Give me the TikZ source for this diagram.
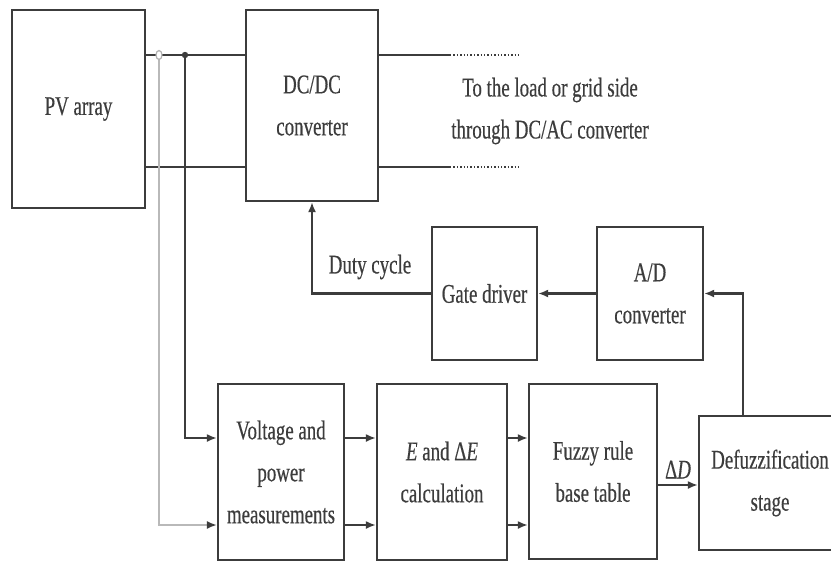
\documentclass[tikz,border=0pt]{standalone}
\usepackage{fontspec}
\setmainfont[FakeStretch=0.7, FakeBold=0.4]{Liberation Serif}
\usepackage{tikz}
\usetikzlibrary{arrows.meta}
\definecolor{inkgray}{RGB}{60, 60, 60}

\tikzset{
  blk/.style={draw=inkgray, line width=2.2pt, text=inkgray, align=center,
    font=\fontsize{27}{42}\selectfont},
  wire/.style={draw=inkgray, line width=2.2pt},
  conn/.style={wire, -{Latex[length=10pt,width=8pt]}},
  lbl/.style={text=inkgray, align=center, font=\fontsize{27}{42}\selectfont}
}

\begin{document}
\begin{tikzpicture}[x=1pt, y=-1pt]
\clip (0,0) rectangle (831,563);
\fill[white] (0,0) rectangle (831,563);
% blocks
\node[blk, minimum width=133pt, minimum height=198pt] (pv) at (78.5,109) {PV array};
\node[blk, minimum width=132pt, minimum height=191pt] (dcdc) at (312,105.5) {DC/DC\\converter};
\node[blk, minimum width=105pt, minimum height=133pt] (gate) at (484.5,293.5) {Gate driver};
\node[blk, minimum width=106pt, minimum height=133pt] (ad) at (650,293.5) {A/D\\converter};
\node[blk, minimum width=126pt, minimum height=176pt] (volt) at (281,472) {Voltage and\\power\\measurements};
\node[blk, minimum width=130pt, minimum height=176pt] (ecalc) at (442,472) {\textit{E} and Δ\textit{E}\\calculation};
\node[blk, minimum width=128pt, minimum height=175pt] (fuzzy) at (593,471.5) {Fuzzy rule\\base table};
\node[blk, minimum width=142pt, minimum height=134pt] (defuzz) at (770,483) {Defuzzification\\stage};
\node[lbl] (load) at (550,111) {To the load or grid side\\through DC/AC converter};
\node[lbl] (duty) at (370,267) {Duty cycle};
% junctions and levels
\coordinate (j1) at (159,55);
\coordinate (j2) at (185,55);
\coordinate (neg) at (0,167);
\coordinate (rowa) at (0,438);
\coordinate (rowb) at (0,525);
\coordinate (rowd) at (0,485);
\coordinate (tap) at (743,0);
\coordinate (out) at (450,0);
\coordinate (outend) at (520,0);
% power lines
\draw[wire] (pv.east |- j1) -- (dcdc.west |- j1);
\draw[wire] (pv.east |- neg) -- (dcdc.west |- neg);
\draw[wire] (dcdc.east |- j1) -- (out |- j1);
\draw[wire] (dcdc.east |- neg) -- (out |- neg);
\draw[wire, line width=1.4pt, dotted] (out |- j1) -- (outend |- j1);
\draw[wire, line width=1.4pt, dotted] (out |- neg) -- (outend |- neg);
% sensing
\draw[gray!55, line width=1.8pt, -{Latex[length=10pt,width=8pt,color=inkgray]}] (j1) |- (volt.west |- rowb);
\draw[conn] (j2) |- (volt.west |- rowa);
\draw[gray!60, line width=1.2pt, fill=white] (j1) ellipse (3pt and 4.5pt);
\fill[inkgray] (j2) circle (3.2pt);
% control chain
\draw[conn] (volt.east |- rowa) -- (ecalc.west |- rowa);
\draw[conn] (volt.east |- rowb) -- (ecalc.west |- rowb);
\draw[conn] (ecalc.east |- rowa) -- (fuzzy.west |- rowa);
\draw[conn] (ecalc.east |- rowb) -- (fuzzy.west |- rowb);
\draw[conn] (fuzzy.east |- rowd) -- node[lbl, above=2pt] {Δ\textit{D}} (defuzz.west |- rowd);
\draw[conn] (defuzz.north -| tap) |- (ad.east);
\draw[conn] (ad.west) -- (gate.east);
\draw[conn] (gate.west) -| (dcdc.south);
\end{tikzpicture}
\end{document}
